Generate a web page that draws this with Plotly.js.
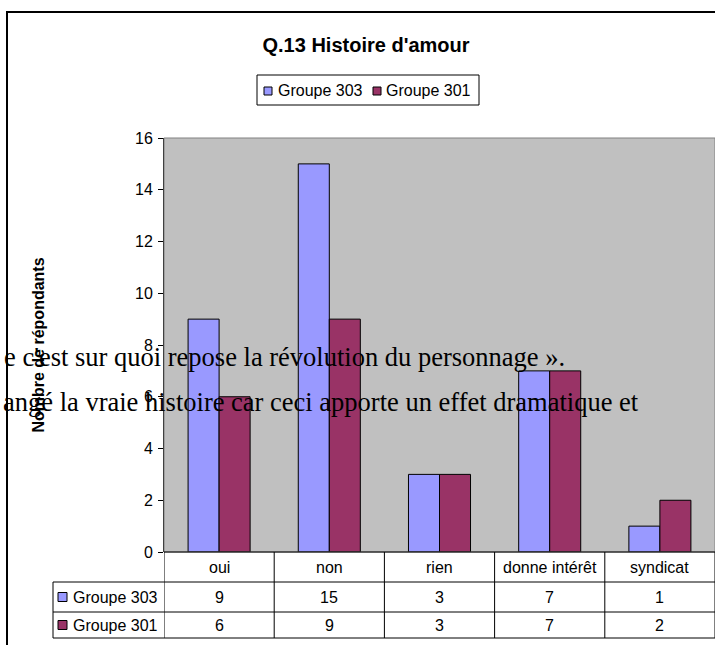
<!DOCTYPE html>
<html><head><meta charset="utf-8">
<script src="https://cdn.plot.ly/plotly-3.0.1.min.js"></script>
<style>html,body{margin:0;padding:0;background:#fff;overflow:hidden}</style>
</head><body><div id="chart" style="width:715px;height:645px"></div>
<script>
// ---- data ----
const categories = ['oui', 'non', 'rien', 'donne intérêt', 'syndicat'];
const seriesNames = ['Groupe 303', 'Groupe 301'];
const groupe303 = [9, 15, 3, 7, 1];
const groupe301 = [6, 9, 3, 7, 2];
const yTicks = [0, 2, 4, 6, 8, 10, 12, 14, 16];
const chartTitle = "Q.13 Histoire d'amour";
const yTitle = 'Nombre de répondants';
const overlayLines = ["e c'est sur quoi repose la révolution du personnage ».",
                      "angé la vraie histoire car ceci apporte un effet dramatique et"];

// ---- layout helpers ----
const W = 715, H = 645, L = 164, R = 715, T = 138, B = 552;
const px = x => (x - L) / (R - L);
const py = y => (B - y) / (B - T);
const colors = ['#9999FF', '#993366'];
const series = [groupe303, groupe301];
const FONT = 'Arial, "Liberation Sans", sans-serif';
const SERIF = '"Times New Roman", "Liberation Serif", serif';

const traces = series.map((vals, i) => ({
  type: 'bar', name: seriesNames[i], x: categories, y: vals,
  marker: {color: colors[i], line: {color: '#000', width: 1}},
  hoverinfo: 'skip', showlegend: false
}));

const shapes = [];
const annotations = [];
const line = (x0, y0, x1, y1, xref) => shapes.push({type: 'line', xref: xref || 'paper', yref: 'paper',
  x0: x0, x1: x1, y0: y0, y1: y1, line: {color: '#000', width: 1}});

// outer chart frame
shapes.push({type: 'rect', xref: 'paper', yref: 'paper', x0: px(7), x1: px(760), y0: py(12), y1: py(700),
  line: {color: '#000', width: 2}, fillcolor: 'rgba(0,0,0,0)'});
// plot area border
shapes.push({type: 'rect', xref: 'paper', yref: 'paper', x0: 0, x1: 1, y0: 0, y1: 1,
  line: {color: '#808080', width: 1}, fillcolor: 'rgba(0,0,0,0)'});

// legend (top)
shapes.push({type: 'rect', xref: 'paper', yref: 'paper', x0: px(257), x1: px(479), y0: py(75), y1: py(105),
  line: {color: '#000', width: 1}, fillcolor: '#fff'});
const legSq = [264, 373], legTx = [276, 384];
seriesNames.forEach((n, i) => {
  shapes.push({type: 'rect', xref: 'paper', yref: 'paper', x0: px(legSq[i]), x1: px(legSq[i] + 8),
    y0: py(87), y1: py(95), line: {color: '#000', width: 1}, fillcolor: colors[i]});
  annotations.push({xref: 'paper', yref: 'paper', x: px(legTx[i]), y: py(90.5), xanchor: 'left', yanchor: 'middle',
    text: n, showarrow: false, font: {family: FONT, size: 16, color: '#000'}});
});

// data table
const rowY = [567, 597, 625];
line(0, py(552), 1, py(552));
[582, 612, 638].forEach(y => line(px(53), py(y), 1, py(y)));
line(px(53), py(582), px(53), py(638));
for (let i = 0; i <= categories.length; i++) {
  shapes.push({type: 'line', xref: 'x', yref: 'paper', x0: i - 0.5, x1: i - 0.5, y0: py(552), y1: py(638),
    line: {color: '#000', width: 1}});
}
categories.forEach((c, j) => {
  annotations.push({xref: 'x', yref: 'paper', x: c, y: py(rowY[0]), text: c, showarrow: false,
    xanchor: 'center', yanchor: 'middle', font: {family: FONT, size: 16, color: '#000'}});
  series.forEach((vals, i) => annotations.push({xref: 'x', yref: 'paper', x: c, y: py(rowY[i + 1]),
    text: String(vals[j]), showarrow: false, xanchor: 'center', yanchor: 'middle',
    font: {family: FONT, size: 16, color: '#000'}}));
});
seriesNames.forEach((n, i) => {
  const cy = rowY[i + 1];
  shapes.push({type: 'rect', xref: 'paper', yref: 'paper', x0: px(58), x1: px(67), y0: py(cy - 4.5), y1: py(cy + 4.5),
    line: {color: '#000', width: 1}, fillcolor: colors[i]});
  annotations.push({xref: 'paper', yref: 'paper', x: px(71), y: py(cy), xanchor: 'left', yanchor: 'middle',
    text: n, showarrow: false, font: {family: FONT, size: 16, color: '#000'}});
});

// overlapping document text (in front of the chart)
const overlayRight = [567, 641], overlayMid = [357, 402];
overlayLines.forEach((t, i) => annotations.push({xref: 'paper', yref: 'paper', x: px(overlayRight[i]), y: py(overlayMid[i]),
  xanchor: 'right', yanchor: 'middle', text: t, showarrow: false,
  font: {family: SERIF, size: 26.5, color: '#000'}}));

const layout = {
  width: W, height: H,
  margin: {l: L, r: W - R, t: T, b: H - B, pad: 0},
  paper_bgcolor: '#fff', plot_bgcolor: '#C0C0C0',
  title: {text: '<b>' + chartTitle + '</b>', x: 366 / W, xanchor: 'center', xref: 'container',
    y: 1 - 44.5 / H, yanchor: 'middle', yref: 'container', font: {family: FONT, size: 20, color: '#000'}},
  barmode: 'group', bargap: 0.437, bargroupgap: 0,
  showlegend: false,
  xaxis: {type: 'category', range: [-0.5, categories.length - 0.5], showticklabels: false, ticks: '',
    showline: false, showgrid: false, zeroline: false, fixedrange: true},
  yaxis: {range: [0, 16], tickvals: yTicks, ticktext: yTicks.map(String), ticks: 'outside', ticklen: 5, tickcolor: '#000',
    showline: true, linecolor: '#000', linewidth: 1, showgrid: false, zeroline: false, automargin: false,
    ticklabelstandoff: 2,
    tickfont: {family: FONT, size: 16, color: '#000'}, fixedrange: true,
    title: {text: '<b>' + yTitle + '</b>', standoff: 86, font: {family: FONT, size: 16, color: '#000'}}},
  shapes: shapes, annotations: annotations
};

Plotly.newPlot('chart', traces, layout, {staticPlot: true, displayModeBar: false});
</script>
</body></html>
